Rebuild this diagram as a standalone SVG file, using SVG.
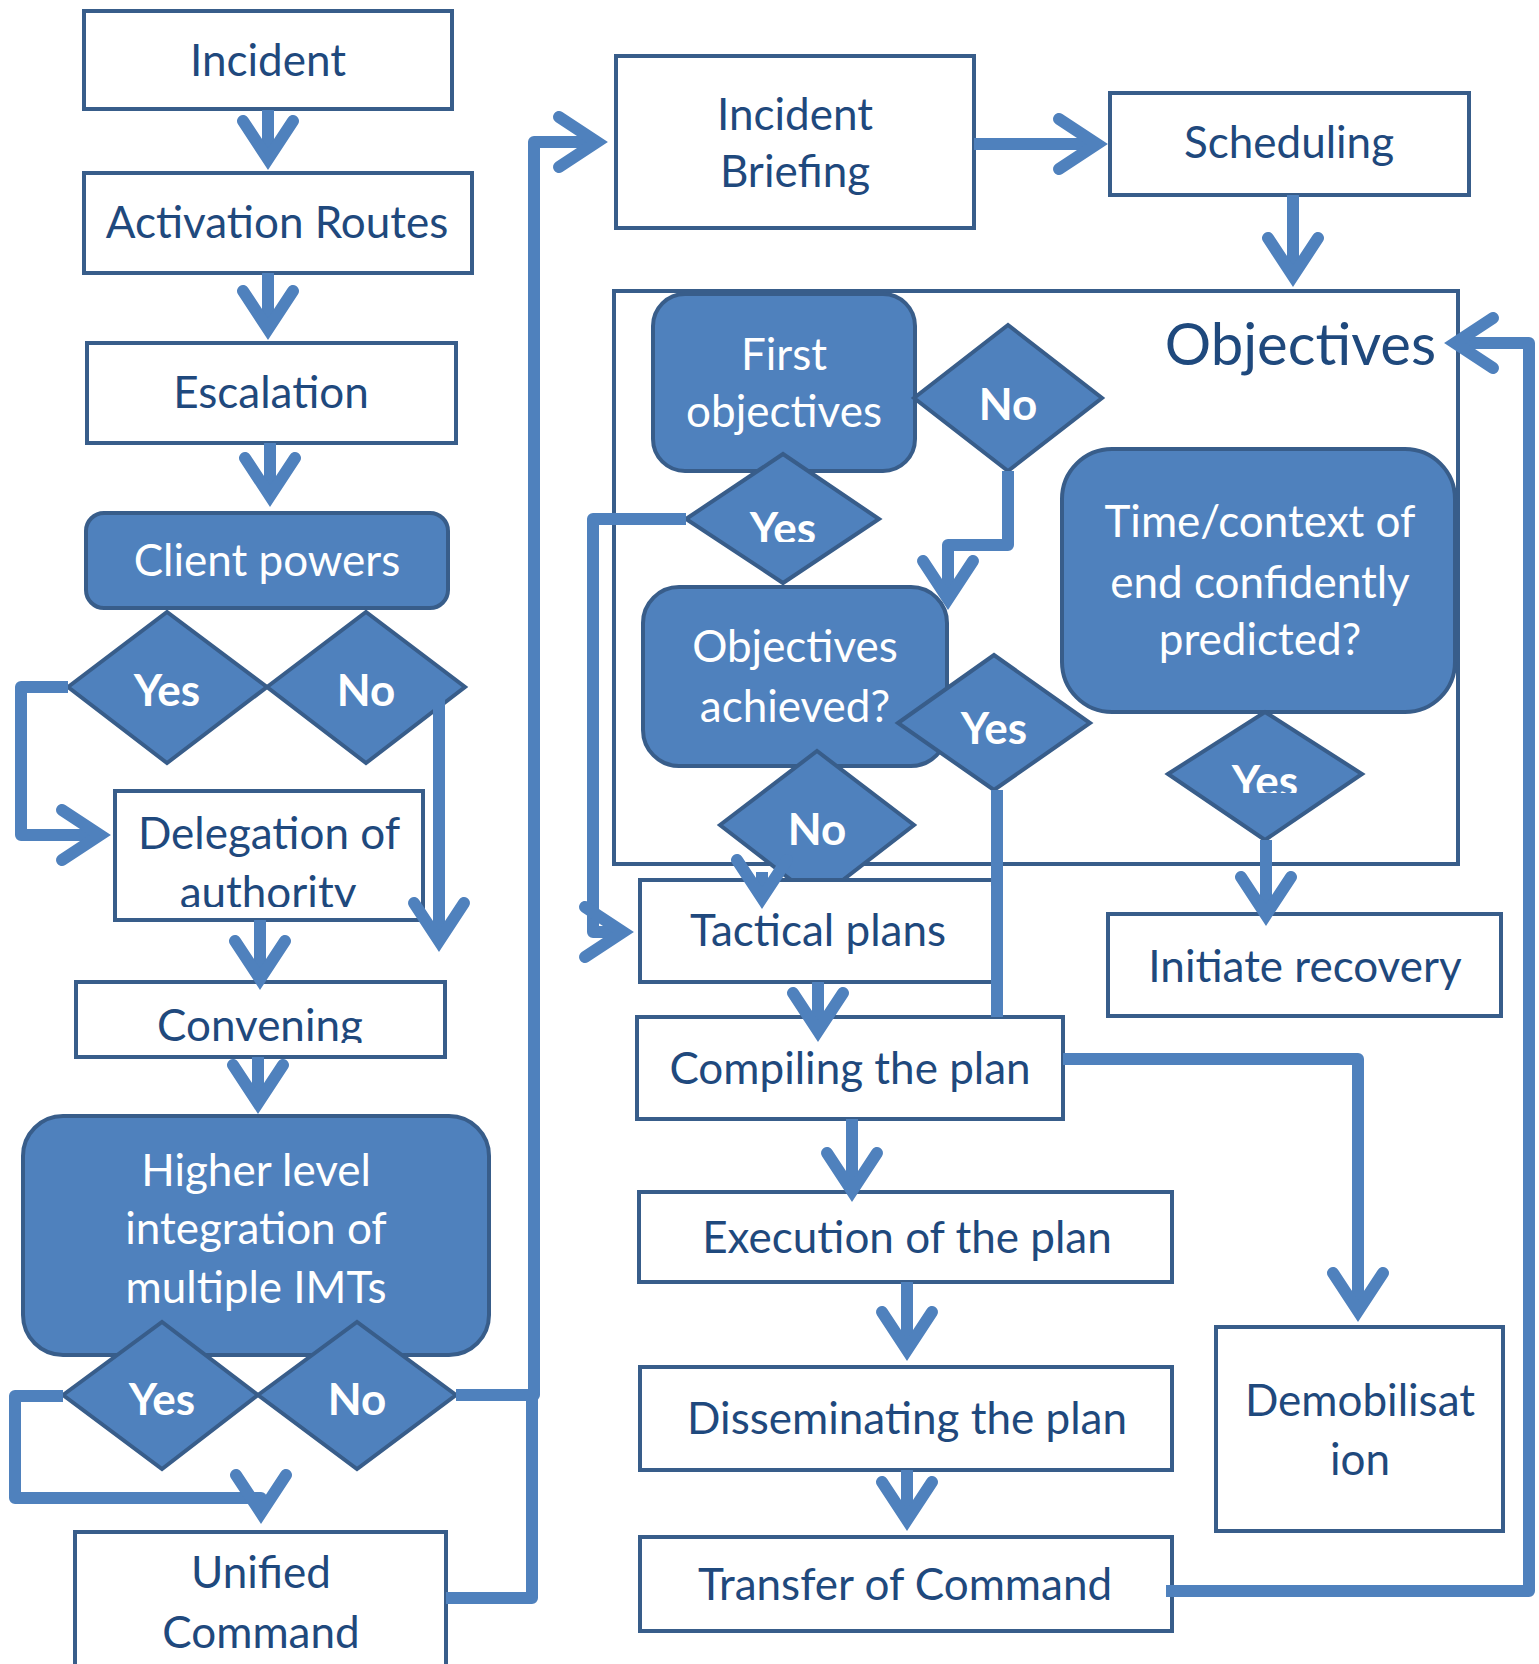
<svg xmlns="http://www.w3.org/2000/svg" width="1539" height="1664" viewBox="0 0 1539 1664">
<style>
.box{fill:#FFFFFF;stroke:#385D8A;stroke-width:4}
.fbox{fill:#4F81BD;stroke:#385D8A;stroke-width:4}
.dia{fill:#4F81BD;stroke:#385D8A;stroke-width:4;stroke-linejoin:miter}
.lbl{font-family:Lato,"Open Sans","Liberation Sans",sans-serif;font-size:44px;fill:#1F497D;text-anchor:middle}
.wl{font-family:Lato,"Open Sans","Liberation Sans",sans-serif;font-size:44px;fill:#FFFFFF;text-anchor:middle}
.yn{font-family:Lato,"Open Sans","Liberation Sans",sans-serif;font-size:44px;font-weight:bold;fill:#FFFFFF;text-anchor:middle}
.big{font-family:Lato,"Open Sans","Liberation Sans",sans-serif;font-size:58px;fill:#1F497D;text-anchor:end}
.con{fill:none;stroke:#4F81BD;stroke-width:12;stroke-linejoin:round;marker-end:url(#chev)}
.nom{marker-end:none}
</style>
<defs>
<marker id="chev" markerUnits="userSpaceOnUse" markerWidth="120" markerHeight="120" viewBox="-60 -60 120 120" refX="0" refY="0" orient="auto" overflow="visible">
<path d="M-32,-25 L6,0 L-32,25" fill="none" stroke="#4F81BD" stroke-width="12" stroke-linecap="round" stroke-linejoin="miter"/>
</marker>
<clipPath id="clipAuth"><rect x="100" y="860" width="340" height="47"/></clipPath>
<clipPath id="clipConv"><rect x="60" y="990" width="400" height="53"/></clipPath>
<clipPath id="clipYes1"><rect x="700" y="490" width="170" height="52"/></clipPath>
<clipPath id="clipYes2"><rect x="1180" y="740" width="170" height="53"/></clipPath>
</defs>
<rect x="0" y="0" width="1539" height="1664" fill="#FFFFFF"/>

<g id="objectives-frame">
<rect x="614" y="291" width="844" height="573" fill="none" stroke="#385D8A" stroke-width="4"/>
<text class="big" x="1436" y="365">Objectives</text>
</g>

<g id="incident"><rect class="box" x="84" y="11" width="368" height="98"/><text class="lbl" x="268" y="76">Incident</text></g>
<g id="activation"><rect class="box" x="84" y="173" width="388" height="100"/><text class="lbl" x="277" y="238">Activation Routes</text></g>
<g id="escalation"><rect class="box" x="87" y="343" width="369" height="100"/><text class="lbl" x="271" y="408">Escalation</text></g>
<g id="client-powers"><rect class="fbox" x="86" y="513" width="362" height="95" rx="18"/><text class="wl" x="267" y="576">Client powers</text></g>
<g id="client-yes"><polygon class="dia" points="68,687 167,612 267,687 167,763"/><text class="yn" x="167" y="706">Yes</text></g>
<g id="client-no"><polygon class="dia" points="267,687 366,612 465,687 366,763"/><text class="yn" x="366" y="706">No</text></g>
<g id="delegation"><rect class="box" x="115" y="791" width="308" height="129"/>
<text class="lbl" x="269" y="849">Delegation of</text>
<text class="lbl" x="268" y="908" clip-path="url(#clipAuth)">authority</text></g>
<g id="convening"><rect class="box" x="76" y="982" width="369" height="75"/><text class="lbl" x="260" y="1041" clip-path="url(#clipConv)">Convening</text></g>
<g id="higher-level"><rect class="fbox" x="23" y="1116" width="466" height="239" rx="40"/>
<text class="wl" x="256" y="1186">Higher level</text>
<text class="wl" x="256" y="1244">integration of</text>
<text class="wl" x="256" y="1303">multiple IMTs</text></g>
<g id="higher-yes"><polygon class="dia" points="63,1395 162,1322 258,1395 162,1469"/><text class="yn" x="162" y="1415">Yes</text></g>
<g id="higher-no"><polygon class="dia" points="258,1395 357,1322 456,1395 357,1469"/><text class="yn" x="357" y="1415">No</text></g>
<g id="unified"><rect class="box" x="75" y="1532" width="371" height="150"/>
<text class="lbl" x="261" y="1588">Unified</text>
<text class="lbl" x="261" y="1648">Command</text></g>

<g id="incident-briefing"><rect class="box" x="616" y="56" width="358" height="172"/>
<text class="lbl" x="795" y="130">Incident</text>
<text class="lbl" x="795" y="187">Briefing</text></g>
<g id="scheduling"><rect class="box" x="1110" y="93" width="359" height="102"/><text class="lbl" x="1289" y="158">Scheduling</text></g>

<g id="first-objectives"><rect class="fbox" x="653" y="294" width="262" height="177" rx="32"/>
<text class="wl" x="784" y="370">First</text>
<text class="wl" x="784" y="427">objectives</text></g>
<g id="first-no"><polygon class="dia" points="914,398 1008,325 1102,398 1008,471"/><text class="yn" x="1008" y="420">No</text></g>
<g id="first-yes"><polygon class="dia" points="686,519 783,454 879,519 783,583"/><text class="yn" x="783" y="544" clip-path="url(#clipYes1)">Yes</text></g>
<g id="objectives-achieved"><rect class="fbox" x="643" y="587" width="304" height="179" rx="36"/>
<text class="wl" x="795" y="662">Objectives</text>
<text class="wl" x="795" y="722">achieved?</text></g>
<g id="achieved-yes"><polygon class="dia" points="898,723 994,655 1090,723 994,790"/><text class="yn" x="994" y="744">Yes</text></g>
<g id="achieved-no"><polygon class="dia" points="720,825 817,751 914,825 817,900"/><text class="yn" x="817" y="845">No</text></g>
<g id="time-context"><rect class="fbox" x="1062" y="449" width="393" height="263" rx="50"/>
<text class="wl" x="1260" y="537">Time/context of</text>
<text class="wl" x="1260" y="598">end confidently</text>
<text class="wl" x="1260" y="655">predicted?</text></g>
<g id="time-yes"><polygon class="dia" points="1168,774 1265,712 1362,774 1265,840"/><text class="yn" x="1265" y="797" clip-path="url(#clipYes2)">Yes</text></g>
<g id="initiate-recovery"><rect class="box" x="1108" y="914" width="393" height="102"/><text class="lbl" x="1305" y="982">Initiate recovery</text></g>

<g id="tactical-plans"><rect class="box" x="640" y="880" width="358" height="102"/><text class="lbl" x="818" y="946">Tactical plans</text></g>
<g id="compiling"><rect class="box" x="637" y="1017" width="426" height="102"/><text class="lbl" x="850" y="1084">Compiling the plan</text></g>
<g id="execution"><rect class="box" x="639" y="1192" width="533" height="90"/><text class="lbl" x="907" y="1253">Execution of the plan</text></g>
<g id="disseminating"><rect class="box" x="640" y="1367" width="532" height="103"/><text class="lbl" x="907" y="1434">Disseminating the plan</text></g>
<g id="transfer"><rect class="box" x="640" y="1537" width="532" height="94"/><text class="lbl" x="905" y="1600">Transfer of Command</text></g>
<g id="demobilisation"><rect class="box" x="1216" y="1327" width="287" height="204"/>
<text class="lbl" x="1360" y="1416">Demobilisat</text>
<text class="lbl" x="1360" y="1475">ion</text></g>

<g id="connectors">
<path class="con" d="M268,110 V153"/>
<path class="con" d="M268,273 V323"/>
<path class="con" d="M270,443 V490"/>
<path class="con" d="M68,687 H21 V835 H94"/>
<path class="con" d="M439,700 V935"/>
<path class="con" d="M260,920 V973"/>
<path class="con" d="M258,1057 V1097"/>
<path class="con" d="M63,1396 H15 V1498 H261 V1507"/>
<path class="con" d="M456,1395 H534 V142 H591"/>
<path class="con nom" d="M446,1598 H532 V1395"/>
<path class="con" d="M974,144 H1091"/>
<path class="con" d="M1293,195 V270"/>
<path class="con" d="M686,519 H593 V932 H617"/>
<path class="con" d="M1008,471 V545 H948 V593"/>
<path class="con nom" d="M997,790 V1017"/>
<path class="con" d="M762,872 V892"/>
<path class="con" d="M818,982 V1025"/>
<path class="con" d="M1063,1059 H1358 V1305"/>
<path class="con" d="M852,1119 V1185"/>
<path class="con" d="M907,1282 V1344"/>
<path class="con" d="M907,1470 V1514"/>
<path class="con" d="M1166,1591 H1529 V343 H1461"/>
<path class="con" d="M1266,840 V909"/>
</g>
</svg>
